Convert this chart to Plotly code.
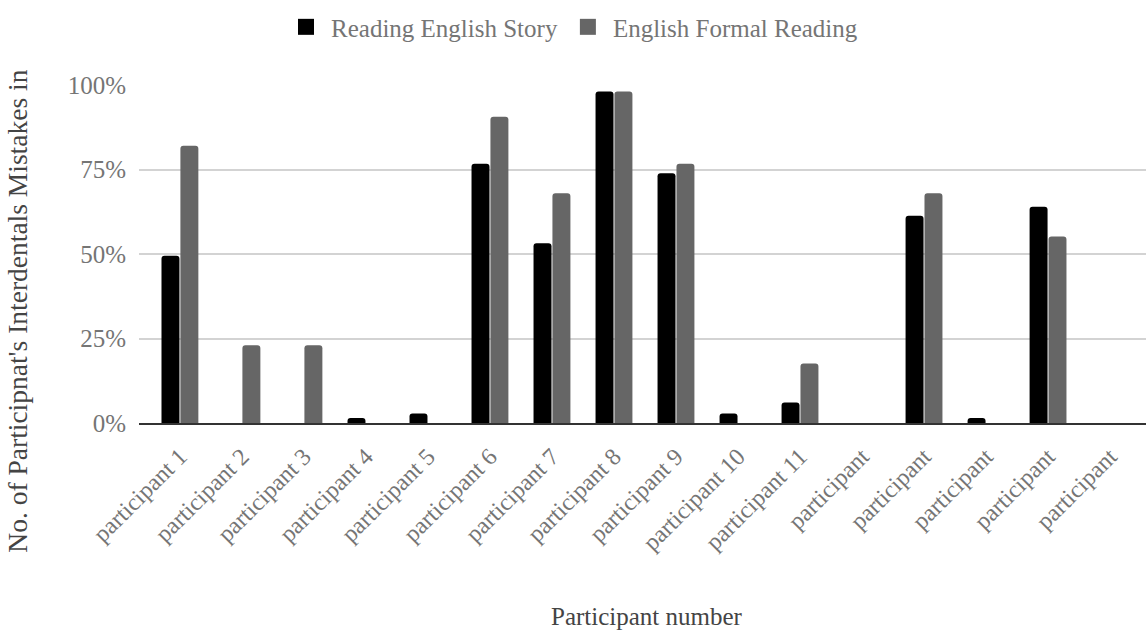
import plotly.graph_objects as go

# Participants and their share of interdental mistakes (fraction of attempts)
categories = [f"participant {i}" for i in range(1, 17)]
tick_labels = [f"participant {i}" for i in range(1, 12)] + ["participant"] * 5
story_reading = [0.495, 0.0, 0.0, 0.015, 0.028, 0.767, 0.532, 0.981, 0.739, 0.028,
                 0.061, 0.0, 0.613, 0.015, 0.64, 0.0]
formal_reading = [0.82, 0.23, 0.23, 0.0, 0.0, 0.906, 0.68, 0.981, 0.767, 0.0,
                  0.176, 0.0, 0.68, 0.0, 0.552, 0.0]
series_names = ["Reading English Story", "English Formal Reading"]
series_colors = ["#000000", "#666666"]

FONT = "Liberation Serif, Times New Roman, serif"
positions = list(range(len(categories)))

fig = go.Figure()
for name, vals, col in zip(series_names, [story_reading, formal_reading], series_colors):
    fig.add_trace(go.Bar(
        x=positions, y=vals, name=name, legendgroup=name, showlegend=False,
        marker=dict(color=col, line=dict(width=0), cornerradius=3),
        customdata=categories,
        hovertemplate="%{customdata}<br>%{y:.0%}<extra>" + name + "</extra>",
    ))

# Legend entries with larger square swatches
for name, col in zip(series_names, series_colors):
    fig.add_trace(go.Scatter(
        x=[None], y=[None], mode="markers", name=name, legendgroup=name,
        marker=dict(symbol="square", size=16, color=col, line=dict(width=0)),
        hoverinfo="skip",
    ))

fig.update_layout(
    width=1146, height=633,
    margin=dict(l=139, r=0, t=85, b=209.5, pad=0),
    paper_bgcolor="white", plot_bgcolor="white",
    barmode="group", bargap=0.39, bargroupgap=0.05,
    font=dict(family=FONT, size=24, color="#757575"),
    showlegend=True,
    legend=dict(orientation="h", x=0.430, xanchor="center", y=1.0 + 58 / 338.5,
                yanchor="middle", font=dict(size=25, color="#757575"),
                itemwidth=40, traceorder="normal"),
    xaxis=dict(
        range=[-0.66, 15.58], tickmode="array", tickvals=positions, ticktext=tick_labels,
        tickangle=-45, showgrid=False, showline=True, linecolor="#333333", linewidth=2,
        ticks="", ticklabelstandoff=8, tickfont=dict(size=24, color="#757575"),
        zeroline=False, fixedrange=True,
    ),
    yaxis=dict(
        range=[0, 1], tickvals=[0, 0.25, 0.5, 0.75, 1.0], tickformat=".0%",
        showgrid=True, gridcolor="#d3d3d3", gridwidth=2, zeroline=False,
        showline=False, ticks="", ticklabelstandoff=12,
        tickfont=dict(size=25, color="#757575"), fixedrange=True,
    ),
    annotations=[
        dict(text="No. of Participnat's Interdentals Mistakes in", textangle=-90,
             xref="paper", yref="paper", x=(18 - 139) / 1007, y=(423.5 - 312) / 338.5,
             xanchor="center", yanchor="middle", showarrow=False,
             font=dict(family=FONT, size=27.5, color="#444444")),
        dict(text="Participant number", xref="paper", yref="paper",
             x=(647 - 139) / 1007, y=(423.5 - 617) / 338.5,
             xanchor="center", yanchor="middle", showarrow=False,
             font=dict(family=FONT, size=25, color="#444444")),
    ],
)

fig.write_html("out.html")
